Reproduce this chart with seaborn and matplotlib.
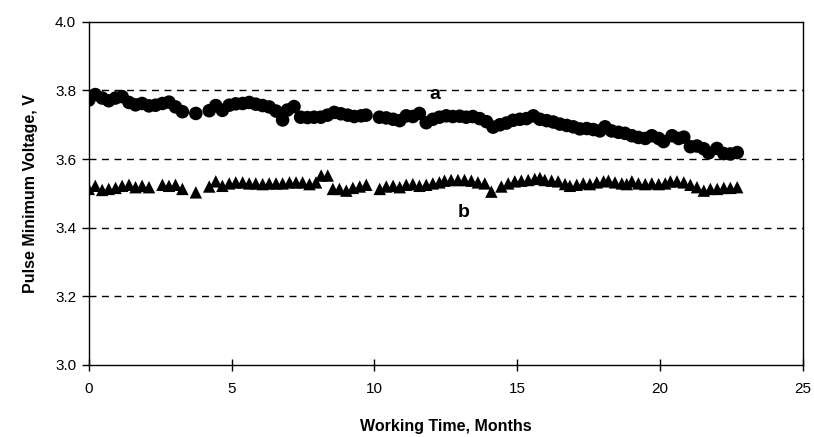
import matplotlib
matplotlib.use("Agg")
import matplotlib.pyplot as plt
import seaborn as sns
import pandas as pd

# Series a: pulse minimum voltage (V) vs working time (months)
months_a = [0.00, 0.23, 0.47, 0.70, 0.94, 1.17, 1.41, 1.64, 1.87, 2.11, 2.34, 2.58,
            2.81, 3.04, 3.28, 3.75, 4.22, 4.45, 4.68, 4.92, 5.15, 5.39, 5.62, 5.85,
            6.09, 6.32, 6.56, 6.79, 6.96, 7.19, 7.42, 7.66, 7.89, 8.13, 8.36, 8.60,
            8.83, 9.07, 9.30, 9.54, 9.71, 10.18, 10.42, 10.66, 10.89, 11.12, 11.35,
            11.58, 11.82, 12.05, 12.28, 12.52, 12.75, 12.99, 13.22, 13.45, 13.69,
            13.93, 14.16, 14.40, 14.63, 14.86, 15.10, 15.33, 15.57, 15.80, 16.04,
            16.27, 16.50, 16.74, 16.97, 17.20, 17.44, 17.67, 17.90, 18.08, 18.31,
            18.55, 18.78, 19.02, 19.25, 19.49, 19.72, 19.96, 20.13, 20.43, 20.66,
            20.84, 21.07, 21.30, 21.54, 21.71, 22.00, 22.24, 22.47, 22.71]
volts_a = [3.772, 3.788, 3.778, 3.770, 3.778, 3.782, 3.765, 3.758, 3.762, 3.755, 3.757, 3.762,
           3.766, 3.752, 3.738, 3.733, 3.741, 3.756, 3.742, 3.757, 3.761, 3.762, 3.765, 3.760,
           3.756, 3.752, 3.740, 3.714, 3.743, 3.753, 3.722, 3.721, 3.722, 3.722, 3.728, 3.736,
           3.732, 3.728, 3.724, 3.726, 3.728, 3.722, 3.720, 3.716, 3.712, 3.726, 3.724,
           3.733, 3.706, 3.716, 3.722, 3.726, 3.724, 3.725, 3.722, 3.724, 3.718,
           3.709, 3.693, 3.700, 3.705, 3.713, 3.716, 3.718, 3.726, 3.716, 3.712,
           3.708, 3.702, 3.698, 3.694, 3.688, 3.689, 3.686, 3.682, 3.694, 3.682,
           3.678, 3.675, 3.668, 3.663, 3.660, 3.668, 3.660, 3.651, 3.668, 3.660,
           3.664, 3.636, 3.638, 3.630, 3.618, 3.631, 3.616, 3.615, 3.619]

# Series b
months_b = [0.00, 0.23, 0.47, 0.70, 0.94, 1.17, 1.41, 1.64, 1.87, 2.11, 2.58, 2.81,
            3.04, 3.28, 3.75, 4.22, 4.45, 4.68, 4.92, 5.15, 5.39, 5.62, 5.85, 6.09,
            6.32, 6.56, 6.79, 7.03, 7.26, 7.49, 7.73, 7.96, 8.14, 8.37, 8.55, 8.78,
            9.02, 9.25, 9.49, 9.72, 10.19, 10.42, 10.66, 10.89, 11.12, 11.35, 11.58,
            11.82, 12.05, 12.28, 12.46, 12.69, 12.93, 13.16, 13.40, 13.63, 13.87,
            14.10, 14.45, 14.69, 14.92, 15.15, 15.39, 15.62, 15.80, 15.97, 16.21,
            16.44, 16.68, 16.85, 17.09, 17.32, 17.55, 17.79, 18.03, 18.20, 18.43,
            18.67, 18.84, 19.02, 19.25, 19.49, 19.72, 19.96, 20.19, 20.37, 20.60,
            20.84, 21.07, 21.30, 21.54, 21.77, 22.01, 22.24, 22.47, 22.71]
volts_b = [3.513, 3.522, 3.510, 3.513, 3.516, 3.522, 3.525, 3.518, 3.522, 3.518, 3.525, 3.522,
           3.525, 3.513, 3.503, 3.520, 3.535, 3.522, 3.529, 3.532, 3.532, 3.529, 3.529, 3.527,
           3.529, 3.529, 3.529, 3.532, 3.532, 3.532, 3.527, 3.532, 3.552, 3.552, 3.513, 3.513,
           3.508, 3.516, 3.520, 3.525, 3.513, 3.520, 3.522, 3.518, 3.525, 3.527, 3.522,
           3.525, 3.529, 3.532, 3.537, 3.539, 3.539, 3.539, 3.537, 3.532, 3.529,
           3.505, 3.520, 3.529, 3.535, 3.537, 3.539, 3.542, 3.545, 3.539, 3.537,
           3.535, 3.527, 3.522, 3.525, 3.529, 3.527, 3.532, 3.535, 3.537, 3.532,
           3.529, 3.527, 3.535, 3.529, 3.527, 3.529, 3.527, 3.529, 3.535, 3.535,
           3.532, 3.525, 3.518, 3.508, 3.513, 3.513, 3.516, 3.516, 3.518]

x_ticks = [0, 5, 10, 15, 20, 25]
y_ticks = [3.0, 3.2, 3.4, 3.6, 3.8, 4.0]
grid_levels = [3.2, 3.4, 3.6, 3.8]

sns.set_theme(style="white")
plt.rcParams["font.family"] = ["Liberation Sans", "DejaVu Sans"]
plt.rcParams["text.color"] = "black"
plt.rcParams["axes.labelcolor"] = "black"
plt.rcParams["xtick.color"] = "black"
plt.rcParams["ytick.color"] = "black"

df_a = pd.DataFrame({"month": months_a, "volt": volts_a})
df_b = pd.DataFrame({"month": months_b, "volt": volts_b})

fig = plt.figure(figsize=(8.14, 4.37), dpi=100)
ax = fig.add_axes([0.109, 0.165, 0.877, 0.785])

for lvl in grid_levels:
    ax.axhline(lvl, color="black", lw=1.0, ls=(0, (5, 4)), zorder=0)

sns.scatterplot(data=df_a, x="month", y="volt", ax=ax, marker="o", s=95,
                color="black", edgecolor="none", zorder=3)
sns.scatterplot(data=df_b, x="month", y="volt", ax=ax, marker="^", s=80,
                color="black", edgecolor="none", zorder=3)

ax.text(12.13, 3.787, "a", fontsize=14, fontweight="bold", color="black",
        ha="center", va="center")
ax.text(13.12, 3.443, "b", fontsize=14, fontweight="bold", color="black",
        ha="center", va="center")

ax.set_xlim(0, 25)
ax.set_ylim(3.0, 4.0)
ax.set_xticks(x_ticks)
ax.set_yticks(y_ticks)
ax.set_xticklabels([str(t) for t in x_ticks])
ax.set_yticklabels([f"{t:.1f}" for t in y_ticks])

for side in ["left", "right", "top", "bottom"]:
    ax.spines[side].set_visible(True)
    ax.spines[side].set_color("black")
    ax.spines[side].set_linewidth(1.0)

ax.tick_params(axis="x", direction="inout", length=8, width=1, colors="black",
               labelsize=11, pad=8, bottom=True)
ax.tick_params(axis="y", direction="out", length=5, width=1, colors="black",
               labelsize=11, pad=4, left=True)

ax.set_xlabel("Working Time, Months", fontsize=11.5, fontweight="bold", labelpad=17)
ax.set_ylabel("Pulse Minimum Voltage, V", fontsize=11.5, fontweight="bold", labelpad=12)

fig.savefig("out.png", dpi=100, facecolor="white")
